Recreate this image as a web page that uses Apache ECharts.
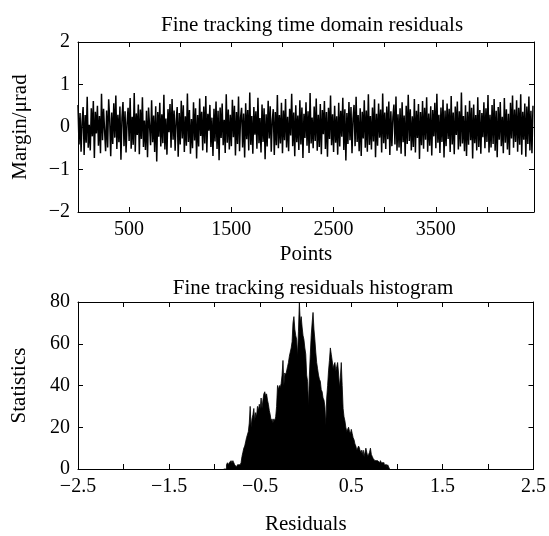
<!DOCTYPE html>
<html>
<head>
<meta charset="utf-8">
<script src="https://cdn.jsdelivr.net/npm/echarts@6/dist/echarts.min.js"></script>
<style>
  html, body { margin: 0; padding: 0; background: #fff; }
  #chart { width: 549px; height: 536px; }
</style>
</head>
<body>
<div id="chart"></div>
<script>
// time domain residuals, sampled every sampleStep points
const sampleStep = 10
const residuals = [
  0.52, -0.41, 0.33, -0.58, 0.12, 0.47, -0.66, 0.28, -0.37, 0.71, -0.49, 0.05, -0.55, 0.44, -0.22, 0.61, -0.73, 0.36, -0.15, 0.50,
  -0.44, 0.26, -0.62, 0.78, -0.31, 0.43, -0.08, -0.57, 0.39, -0.48, 0.65, 0.18, -0.69, 0.34, -0.40, 0.56, -0.25, 0.74, -0.52, 0.29,
  -0.36, 0.48, -0.77, 0.21, 0.59, -0.45, 0.37, -0.60, 0.10, 0.45, -0.33, 0.68, -0.51, 0.24, -0.42, 0.80, -0.58, 0.32, -0.19, 0.53,
  -0.64, 0.41, -0.28, 0.70, -0.47, 0.15, -0.54, 0.38, -0.71, 0.46, 0.02, -0.43, 0.63, -0.36, 0.27, -0.59, 0.49, -0.81, 0.35, -0.23,
  0.57, -0.46, 0.30, -0.38, 0.76, -0.53, 0.20, -0.65, 0.42, -0.12, 0.54, -0.49, 0.66, -0.30, 0.39, -0.56, 0.14, 0.47, -0.70, 0.33,
  -0.41, 0.62, -0.27, 0.51, -0.59, 0.25, -0.44, 0.79, -0.35, 0.40, -0.63, 0.19, -0.50, 0.58, -0.32, 0.44, -0.74, 0.28, -0.46, 0.67,
  -0.21, 0.36, -0.55, 0.48, -0.39, 0.73, -0.60, 0.31, -0.09, 0.52, -0.47, 0.22, -0.68, 0.43, -0.34, 0.60, -0.52, 0.38, -0.78, 0.46,
  -0.26, 0.55, -0.43, 0.17, -0.61, 0.77, -0.37, 0.41, -0.53, 0.29, -0.45, 0.64, -0.24, 0.50, -0.67, 0.35, -0.40, 0.72, -0.57, 0.23,
  0.45, -0.48, 0.32, -0.72, 0.56, -0.29, 0.40, -0.55, 0.81, -0.42, 0.26, -0.63, 0.47, -0.18, 0.37, -0.51, 0.69, -0.38, 0.21, -0.60,
  0.53, -0.35, 0.44, -0.76, 0.30, -0.46, 0.62, -0.27, 0.49, -0.58, 0.16, 0.42, -0.66, 0.35, -0.43, 0.75, -0.50, 0.28, -0.39, 0.57,
  -0.62, 0.39, -0.31, 0.66, -0.48, 0.24, -0.57, 0.43, -0.20, 0.78, -0.45, 0.34, -0.69, 0.51, -0.36, 0.27, -0.54, 0.63, -0.41, 0.46,
  -0.73, 0.31, -0.26, 0.58, -0.44, 0.37, -0.61, 0.80, -0.39, 0.22, -0.50, 0.48, -0.33, 0.67, -0.56, 0.29, -0.47, 0.54, -0.64, 0.40,
  -0.17, 0.61, -0.52, 0.35, -0.70, 0.45, -0.28, 0.74, -0.43, 0.30, -0.59, 0.50, -0.37, 0.25, -0.65, 0.57, -0.46, 0.38, -0.23, 0.69,
  -0.54, 0.42, -0.79, 0.33, -0.40, 0.59, -0.31, 0.47, -0.62, 0.20, 0.52, -0.45, 0.71, -0.35, 0.28, -0.57, 0.44, -0.68, 0.36, -0.27,
  0.63, -0.49, 0.39, -0.58, 0.77, -0.42, 0.26, -0.53, 0.46, -0.34, 0.65, -0.71, 0.31, -0.44, 0.55, -0.25, 0.41, -0.60, 0.79, -0.38,
  0.34, -0.52, 0.48, -0.29, 0.60, -0.66, 0.37, -0.45, 0.23, 0.53, -0.41, 0.72, -0.56, 0.30, -0.48, 0.44, -0.63, 0.58, -0.36, 0.27,
  -0.69, 0.50, -0.40, 0.76, -0.33, 0.42, -0.55, 0.25, -0.47, 0.66, -0.60, 0.38, -0.26, 0.54, -0.75, 0.35, -0.43, 0.61, -0.51, 0.45,
  -0.30, 0.70, -0.58, 0.32, -0.44, 0.49, -0.67, 0.40, -0.22, 0.57, -0.50, 0.78, -0.37, 0.29, -0.61, 0.46, -0.35, 0.64, -0.72, 0.39,
  -0.45, 0.55, -0.28, 0.43, -0.59, 0.73, -0.41, 0.34, -0.64, 0.48, -0.19, 0.60, -0.53, 0.37, -0.46, 0.81, -0.39, 0.26, -0.57, 0.51,
  -0.68, 0.36, -0.42, 0.62, -0.31, 0.45, -0.74, 0.53, -0.38, 0.28, -0.55, 0.70, -0.47, 0.40, -0.63, 0.33, -0.24, 0.58, -0.50, 0.44,
  -0.35, 0.75, -0.60, 0.29, -0.48, 0.52, -0.40, 0.66, -0.56, 0.38, -0.71, 0.47, -0.30, 0.59, -0.45, 0.24, -0.62, 0.68, -0.37, 0.42,
  -0.53, 0.31, -0.66, 0.57, -0.27, 0.74, -0.49, 0.41, -0.35, 0.63, -0.58, 0.45, -0.42, 0.77, -0.65, 0.36, -0.30, 0.55, -0.70, 0.48,
  -0.40, 0.72, -0.55, 0.38, -0.62, 0.50
]

// histogram of the residuals, bins of histBinWidth starting at histStart
const histStart = -0.90
const histBinWidth = 0.01
const histCounts = [
  0, 0, 0, 2, 3, 2, 3, 3, 4, 3,
  4, 4, 2, 2, 1, 2, 2, 2, 2, 3,
  6, 8, 10, 11, 13, 15, 15, 18, 22, 30,
  20, 24, 26, 29, 23, 27, 25, 30, 28, 31,
  29, 34, 29, 33, 36, 37, 35, 36, 33, 31,
  28, 26, 23, 24, 22, 24, 23, 25, 30, 40,
  38, 40, 39, 41, 45, 52, 40, 46, 45, 47,
  49, 51, 54, 56, 58, 61, 70, 73, 67, 64,
  62, 54, 66, 80, 70, 73, 68, 64, 62, 58,
  55, 45, 42, 30, 45, 55, 64, 70, 75, 67,
  62, 56, 51, 48, 45, 43, 42, 38, 37, 34,
  33, 30, 21, 34, 40, 47, 52, 58, 55, 52,
  48, 50, 51, 47, 49, 51, 46, 39, 44, 51,
  40, 29, 25, 23, 20, 18, 19, 20, 18, 17,
  19, 17, 15, 14, 12, 11, 9, 10, 11, 10,
  8, 9, 7, 9, 6, 6, 10, 8, 6, 7,
  8, 10, 7, 6, 5, 5, 4, 4, 4, 4,
  4, 3, 4, 3, 3, 3, 2, 2, 2, 1,
  2, 1, 0
]

const pointsTickLabels = [500, 1500, 2500, 3500]
const residualTickLabels = [-2.5, -1.5, -0.5, 0.5, 1.5, 2.5]

const lineData = residuals.map((v, i) => [i * sampleStep, v])
// left edge of each bin, drawn as a step outline filled down to 0
const histData = histCounts.map((c, i) => [+(histStart + i * histBinWidth).toFixed(2), c])

const FONT = "'Liberation Serif', 'Times New Roman', serif"
const minus = v => String(v).replace('-', '\u2212')

const frameLine = { show: true, onZero: false, lineStyle: { color: '#000', width: 1 } }
const innerTick = { show: true, inside: true, length: 5, lineStyle: { color: '#000', width: 1 } }

function axis (opts, shown) {
  return Object.assign({
    type: 'value',
    axisLine: frameLine,
    axisTick: innerTick,
    splitLine: { show: false },
    axisLabel: shown
      ? { show: true, color: '#000', fontFamily: FONT, fontSize: 20, margin: 8 }
      : { show: false },
    nameTextStyle: { color: '#000', fontFamily: FONT, fontSize: 21 }
  }, opts)
}

const chart = echarts.init(document.getElementById('chart'))

const topX = { min: 0, max: 4460, interval: 500 }
const topY = { min: -2, max: 2, interval: 1 }
const botX = { min: -2.5, max: 2.5, interval: 0.5 }
const botY = { min: 0, max: 80, interval: 20 }

chart.setOption({
  animation: false,
  backgroundColor: '#fff',
  title: [
    {
      text: 'Fine tracking time domain residuals',
      left: 307, top: 10, textAlign: 'center',
      textStyle: { color: '#000', fontFamily: FONT, fontSize: 21, fontWeight: 'normal' }
    },
    {
      text: 'Fine tracking residuals histogram',
      left: 308, top: 273, textAlign: 'center',
      textStyle: { color: '#000', fontFamily: FONT, fontSize: 21, fontWeight: 'normal' }
    }
  ],
  grid: [
    { left: 78, top: 42, width: 456, height: 170 },
    { left: 78, top: 302, width: 456, height: 170 }
  ],
  xAxis: [
    axis(Object.assign({
      gridIndex: 0, position: 'bottom',
      name: 'Points', nameLocation: 'middle', nameGap: 32
    }, topX), true),
    axis(Object.assign({ gridIndex: 0, position: 'top' }, topX), false),
    axis(Object.assign({
      gridIndex: 1, position: 'bottom',
      name: 'Residuals', nameLocation: 'middle', nameGap: 45
    }, botX), true),
    axis(Object.assign({ gridIndex: 1, position: 'top' }, botX), false)
  ],
  yAxis: [
    axis(Object.assign({
      gridIndex: 0, position: 'left',
      name: 'Margin/μrad', nameLocation: 'middle', nameGap: 47
    }, topY), true),
    axis(Object.assign({ gridIndex: 0, position: 'right' }, topY), false),
    axis(Object.assign({
      gridIndex: 1, position: 'left',
      name: 'Statistics', nameLocation: 'middle', nameGap: 48
    }, botY), true),
    axis(Object.assign({ gridIndex: 1, position: 'right' }, botY), false)
  ],
  series: [
    {
      type: 'line',
      xAxisIndex: 0, yAxisIndex: 0,
      data: lineData,
      showSymbol: false,
      symbol: 'none',
      clip: true,
      lineStyle: { color: '#000', width: 1.5 }
    },
    {
      type: 'line',
      xAxisIndex: 2, yAxisIndex: 2,
      data: histData,
      step: 'end',
      showSymbol: false,
      symbol: 'none',
      lineStyle: { color: '#000', width: 0.8 },
      areaStyle: { color: '#000', opacity: 1, origin: 'start' }
    }
  ]
})

// only odd labels are written on the x axes
chart.setOption({
  xAxis: [
    { axisLabel: { formatter: v => pointsTickLabels.includes(v) ? String(v) : '' } },
    {},
    { axisLabel: { formatter: v => residualTickLabels.includes(+v.toFixed(1)) ? minus(v) : '' } },
    {}
  ],
  yAxis: [
    { axisLabel: { formatter: v => minus(v) } },
    {},
    {},
    {}
  ]
})
</script>
</body>
</html>
